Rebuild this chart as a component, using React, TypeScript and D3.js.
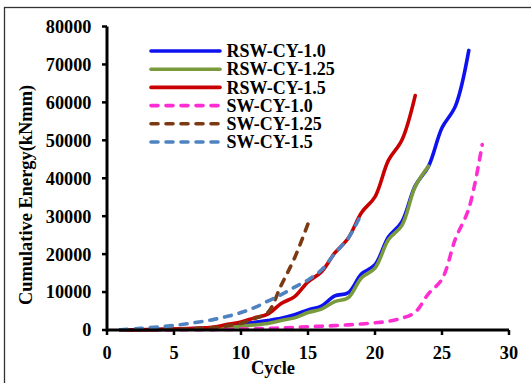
import React from "react";
import * as d3 from "d3";

// Cumulative dissipated energy per loading cycle for each specimen
const rswCy10 = [0, 30, 80, 150, 230, 320, 450, 650, 950, 1500, 2000, 2500, 3100, 4000, 5300, 6300, 9000, 9800, 14800, 17200, 24500, 28500, 38000, 43200, 53300, 59000, 73700];
const rswCy125 = [0, 25, 60, 120, 180, 260, 350, 500, 700, 1000, 1300, 1700, 2500, 3200, 4600, 5500, 7500, 8500, 13800, 16300, 23800, 27500, 37800, 43200];
const rswCy15 = [0, 40, 100, 160, 250, 350, 500, 800, 1500, 2100, 3200, 4200, 7000, 8800, 12700, 15300, 20300, 24200, 31000, 35100, 44700, 50000, 61800];
const swCy10 = [0, 10, 20, 30, 40, 60, 80, 110, 150, 230, 320, 420, 530, 700, 880, 1000, 1150, 1350, 1600, 1900, 2300, 3100, 4700, 9600, 13400, 24000, 32000, 48900];
const swCy125 = [0, 30, 60, 100, 180, 280, 420, 650, 1100, 1800, 3000, 4600, 11800, 19000, 28000];
const swCy15 = [50, 300, 550, 850, 1200, 1650, 2200, 2800, 3600, 4600, 5900, 7600, 9300, 11300, 13200, 15800, 20200, 24200, 30700];

const seriesNames = ["RSW-CY-1.0", "RSW-CY-1.25", "RSW-CY-1.5", "SW-CY-1.0", "SW-CY-1.25", "SW-CY-1.5"];
const seriesValues = [rswCy10, rswCy125, rswCy15, swCy10, swCy125, swCy15];
const seriesColors = ["#0d12ee", "#7a9a3e", "#c80000", "#ff2ed2", "#7b3a12", "#4f82c0"];
const seriesDashed = [false, false, false, true, true, true];

const xTicks = [0, 5, 10, 15, 20, 25, 30];
const yTicks = [0, 10000, 20000, 30000, 40000, 50000, 60000, 70000, 80000];

const W = 531;
const H = 383;
const FONT = "'Liberation Serif', 'Times New Roman', serif";

export default function App() {
  const x = d3.scaleLinear().domain([0, 30]).range([107, 509]);
  const y = d3.scaleLinear().domain([0, 80000]).range([330, 26.5]);

  const line = d3
    .line<number>()
    .x((_, i) => x(i + 1))
    .y((v) => y(v))
    .curve(d3.curveCatmullRom.alpha(0.5));

  const legendX0 = 151;
  const legendX1 = 220;
  const legendY0 = 51;
  const legendStep = 18.2;

  return (
    <svg
      width={W}
      height={H}
      style={{ position: "absolute", left: 0, top: 0, background: "#fff" }}
      fontFamily={FONT}
      fontWeight="bold"
    >
      <rect x={0} y={0} width={W} height={H} fill="#fff" />
      {/* outer frame */}
      <rect x={4.5} y={7.5} width={W + 20} height={H + 20} fill="none" stroke="#333" strokeWidth={1.3} />

      {/* series */}
      {seriesValues.map((vals, k) => (
        <path
          key={seriesNames[k]}
          d={line(vals) || ""}
          fill="none"
          stroke={seriesColors[k]}
          strokeWidth={3.6}
          strokeLinecap="round"
          strokeLinejoin="round"
          strokeDasharray={seriesDashed[k] ? "7 8" : undefined}
        />
      ))}

      {/* axes */}
      <line x1={x(0)} x2={x(30)} y1={y(0)} y2={y(0)} stroke="#000" strokeWidth={3} />
      <line x1={x(0)} x2={x(0)} y1={y(0) + 1.5} y2={y(80000)} stroke="#000" strokeWidth={3} />
      {yTicks.map((t) => (
        <g key={"y" + t}>
          <line x1={x(0) - 5} x2={x(0)} y1={y(t)} y2={y(t)} stroke="#000" strokeWidth={2.5} />
          <text x={91.5} y={y(t)} dy="0.35em" textAnchor="end" fontSize={18.3} fill="#000">
            {t}
          </text>
        </g>
      ))}
      {xTicks.map((t) => (
        <g key={"x" + t}>
          <line x1={x(t)} x2={x(t)} y1={y(0)} y2={y(0) + 5} stroke="#000" strokeWidth={2.5} />
          <text x={x(t)} y={358.5} textAnchor="middle" fontSize={18.3} fill="#000">
            {t}
          </text>
        </g>
      ))}

      <text x={273} y={374} textAnchor="middle" fontSize={18.5} fill="#000">
        Cycle
      </text>
      <text
        transform="translate(32,195) rotate(-90)"
        textAnchor="middle"
        fontSize={18.4}
        fill="#000"
      >
        Cumulative Energy(kNmm)
      </text>

      {/* legend */}
      {seriesNames.map((name, k) => {
        const ly = legendY0 + k * legendStep;
        return (
          <g key={"lg" + name}>
            <line
              x1={legendX0}
              x2={legendX1}
              y1={ly}
              y2={ly}
              stroke={seriesColors[k]}
              strokeWidth={3.6}
              strokeLinecap="round"
              strokeDasharray={seriesDashed[k] ? "7 8" : undefined}
            />
            <text x={226.5} y={ly} dy="0.34em" fontSize={18} fill="#000">
              {name}
            </text>
          </g>
        );
      })}
    </svg>
  );
}
